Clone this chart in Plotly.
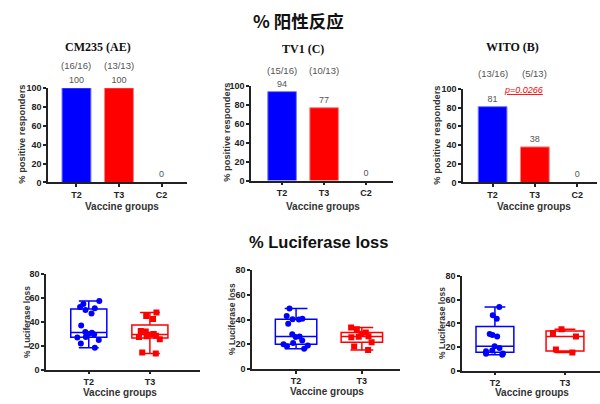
import plotly.graph_objects as go

# ---- response rates (bar panels) ----
groups = ["T2", "T3", "C2"]
panel_titles = ["CM235 (AE)", "TV1 (C)", "WITO (B)"]
cm235_pct = [100, 100, 0]
tv1_pct = [94, 77, 0]
wito_pct = [81, 38, 0]
cm235_frac = ["(16/16)", "(13/13)"]
tv1_frac = ["(15/16)", "(10/13)"]
wito_frac = ["(13/16)", "(5/13)"]
wito_pvalue = "p=0.0266"

# ---- luciferase loss per responder (box panels) ----
box_groups = ["T2", "T3"]
cm235_t2 = [57.5, 55, 52.5, 51.5, 50, 47, 37, 31.5, 31, 30, 29.5, 27.5, 27, 25, 22, 18.5]
cm235_t3 = [48, 45, 42.5, 32.5, 32, 30, 29.5, 28.5, 28, 27.5, 25.5, 14.5, 13.5]
tv1_t2 = [49, 42.8, 40.7, 40.3, 40, 36.5, 28, 26.2, 25.8, 23, 21, 20, 19, 18.3, 16.3]
tv1_t3 = [33.5, 32, 29.5, 28.5, 26.5, 26, 25.5, 21.5, 18, 15.3]
wito_t2 = [53.8, 47, 44, 31, 30.3, 29, 20.7, 19.3, 17, 16.5, 14.6, 14.3, 13.5]
wito_t3 = [35, 32, 29, 18, 15.5]

BLUE = "#0000FF"
RED = "#FF0000"
W, H = 600, 404

def px_x(p):
    return p / W

def px_y(p):
    return 1 - p / H

def ax_ids(k):
    s = "" if k == 1 else str(k)
    return f"x{s}", f"y{s}", f"xaxis{s}", f"yaxis{s}"

fig = go.Figure()

# panel geometry in pixels: (x0, x1, ytop, ybottom, xrange)
bar_geom = [
    (48, 187, 85, 182, [-0.67, 2.6]),
    (251, 393, 83, 180, [-0.74, 2.64]),
    (463, 597, 86, 182, [-0.70, 2.47]),
]
box_geom = [
    (46, 200, 276, 374, [-0.70, 1.82], 0.59),
    (252, 400, 272, 373, [-0.67, 1.58], 0.63),
    (462, 600, 278, 375, [-0.47, 1.50], 0.54),
]

tick_font = dict(family="Liberation Sans, Arial", size=9, color="#222", weight="bold")

def axis_style(**kw):
    d = dict(showline=True, linecolor="#222", linewidth=1.5, ticks="outside",
             ticklen=3, tickwidth=1.5, tickcolor="#222", showgrid=False,
             zeroline=False, tickfont=tick_font)
    d.update(kw)
    return d

def paper_note(cx, cy, text, font, **kw):
    d = dict(x=px_x(cx), y=px_y(cy), xref="paper", yref="paper", text=text,
             showarrow=False, xanchor="center", yanchor="middle", font=font)
    d.update(kw)
    return d

bar_data = [cm235_pct, tv1_pct, wito_pct]
frac_data = [cm235_frac, tv1_frac, wito_frac]
# fraction label heights, as a share of each panel's plotting height
frac_y = [1.24, 1.165, 1.165]

annotations = []
layout_axes = {}

for i, (vals, geom) in enumerate(zip(bar_data, bar_geom)):
    xa, ya, xkey, ykey = ax_ids(i + 1)
    x0, x1, yt, yb, xr = geom
    fig.add_trace(go.Bar(
        x=groups, y=vals, xaxis=xa, yaxis=ya, width=0.68,
        marker=dict(color=[BLUE, RED, RED],
                    line=dict(color=["#7a7aff", "#ff8080", "#ff8080"],
                              width=[1 if v > 0 else 0 for v in vals])),
        text=[str(v) for v in vals], textposition="outside", cliponaxis=False,
        textfont=dict(family="Liberation Sans, Arial", size=9, color="#555"),
        showlegend=False,
    ))
    layout_axes[xkey] = axis_style(
        domain=[px_x(x0), px_x(x1)], range=xr, anchor=ya,
        type="category", categoryorder="array", categoryarray=groups)
    layout_axes[ykey] = axis_style(
        domain=[px_y(yb), px_y(yt)], range=[0, 100], anchor=xa,
        tickvals=[0, 20, 40, 60, 80, 100])
    for g, f in zip(groups[:2], frac_data[i]):
        annotations.append(dict(x=g, y=frac_y[i], xref=xa, yref=f"{ya} domain", text=f,
                                showarrow=False, xanchor="center", yanchor="middle",
                                font=dict(family="Liberation Sans, Arial", size=9.5, color="#555")))

# panel titles
title_font = dict(family="Liberation Serif, Times New Roman", size=12, color="#111")
for t, (tx, ty) in zip(panel_titles, [(98, 43), (303, 45), (512, 43)]):
    annotations.append(paper_note(tx, ty, f"<b>{t}</b>", title_font))

# p-value over the WITO bars
annotations.append(dict(x=0.72, y=0.99, xref="x3", yref="y3 domain",
                        text=f"<i><u>{wito_pvalue}</u></i>", showarrow=False,
                        xanchor="center", yanchor="middle",
                        font=dict(family="Liberation Sans, Arial", size=9, color=RED)))

box_data = [(cm235_t2, cm235_t3), (tv1_t2, tv1_t3), (wito_t2, wito_t3)]
for i, ((t2, t3), geom) in enumerate(zip(box_data, box_geom)):
    xa, ya, xkey, ykey = ax_ids(i + 4)
    x0, x1, yt, yb, xr, bw = geom
    for name, vals, col, sym in (("T2", t2, BLUE, "circle"), ("T3", t3, RED, "square")):
        fig.add_trace(go.Box(
            x=[name] * len(vals), y=vals, xaxis=xa, yaxis=ya, width=bw,
            boxpoints="all", jitter=0.75, pointpos=0, quartilemethod="exclusive",
            whiskerwidth=0.55, fillcolor="rgba(0,0,0,0)",
            line=dict(color=col, width=1.5),
            marker=dict(color=col, size=6, symbol=sym),
            showlegend=False, hoveron="points",
        ))
    layout_axes[xkey] = axis_style(
        domain=[px_x(x0), px_x(x1)], range=xr, anchor=ya,
        type="category", categoryorder="array", categoryarray=box_groups)
    layout_axes[ykey] = axis_style(
        domain=[px_y(yb), px_y(yt)], range=[0, 80], anchor=xa,
        tickvals=[0, 20, 40, 60, 80])

# axis titles
xt_font = dict(family="Liberation Sans, Arial", size=10, color="#333")
for (cx, cy) in [(122, 207), (323, 207), (534, 207), (120, 397), (327, 396), (532, 397)]:
    annotations.append(paper_note(cx, cy, "<b>Vaccine groups</b>", xt_font))
for (cx, cy) in [(22, 133), (227, 131), (437, 134)]:
    annotations.append(paper_note(cx, cy, "<b>% positive responders</b>",
                                  dict(family="Liberation Sans, Arial", size=9.3, color="#333"),
                                  textangle=-90))
for (cx, cy) in [(27, 325), (232, 322), (442, 326)]:
    annotations.append(paper_note(cx, cy, "<b>% Luciferase loss</b>",
                                  dict(family="Liberation Sans, Arial", size=8.5, color="#333"),
                                  textangle=-90))

# section headings
annotations.append(paper_note(298, 16, "<b>% 阳性反应</b>",
                              dict(family="Noto Sans CJK SC", size=17.5, color="#111")))
annotations.append(paper_note(318, 243, "<b>% Luciferase loss</b>",
                              dict(family="Liberation Sans, Arial", size=16.5, color="#111")))

fig.update_layout(
    width=W, height=H, margin=dict(l=0, r=0, t=0, b=0),
    paper_bgcolor="white", plot_bgcolor="white",
    annotations=annotations, **layout_axes,
)

fig.write_html("out.html")
